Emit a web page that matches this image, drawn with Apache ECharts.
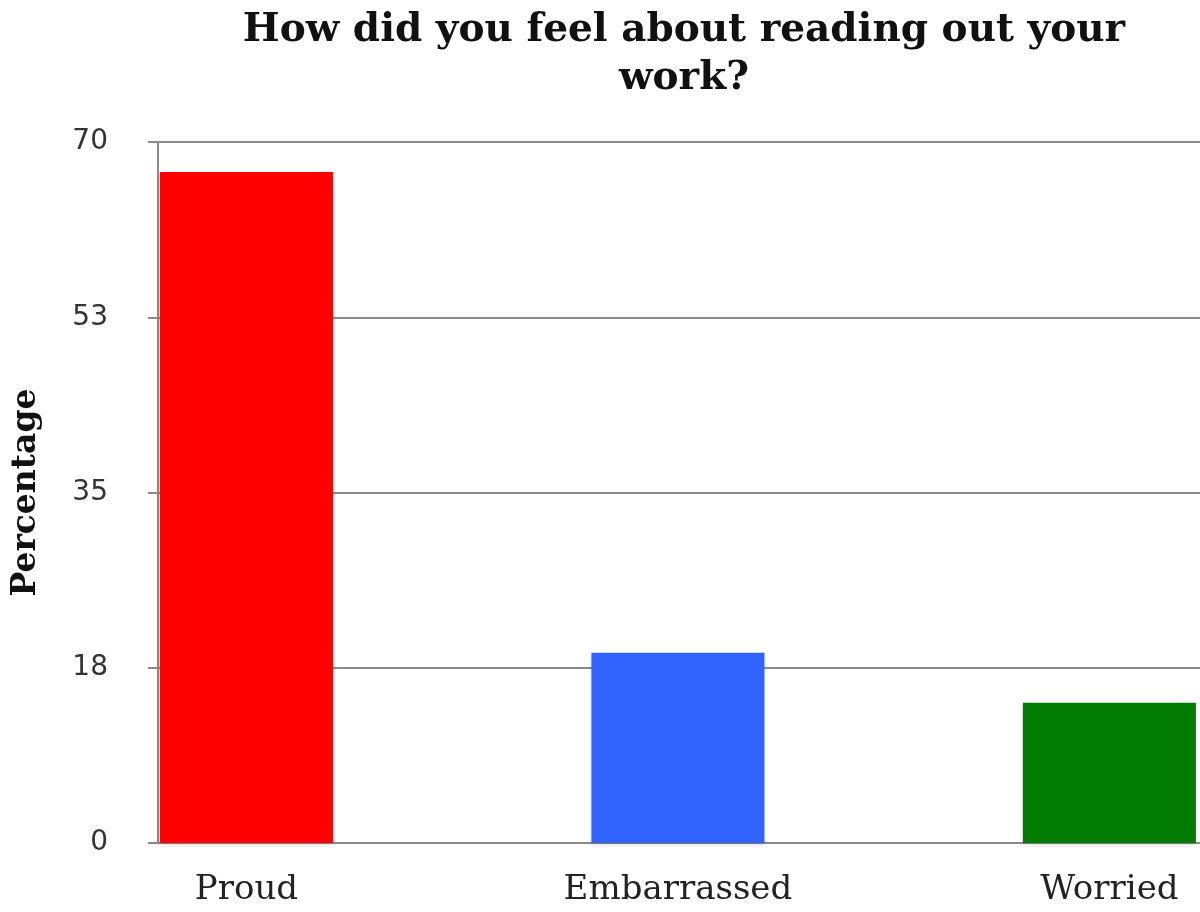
<!DOCTYPE html>
<html>
<head>
<meta charset="utf-8">
<script src="https://cdn.jsdelivr.net/npm/echarts@6/dist/echarts.min.js"></script>
<style>html,body{margin:0;padding:0;background:#fff}#c{width:1200px;height:912px}</style>
</head>
<body>
<div id="c"></div>
<script>
const categories = ['Proud', 'Embarrassed', 'Worried'];
const values = [67, 19, 14];
const barColors = ['#ff0000', '#3162fe', '#027b02'];

const chart = echarts.init(document.getElementById('c'));
chart.setOption({
  backgroundColor: '#ffffff',
  animation: false,
  title: {
    text: 'How did you feel about reading out your\nwork?',
    left: 679,
    top: 2,
    textAlign: 'center',
    textStyle: {
      fontFamily: 'DejaVu Serif',
      fontWeight: 'bold',
      fontSize: 39,
      lineHeight: 48,
      color: '#111'
    }
  },
  grid: { left: 158, right: 0, top: 142, bottom: 69, containLabel: false, outerBoundsMode: 'none' },
  xAxis: {
    type: 'value',
    min: -0.205,
    max: 2.21,
    splitLine: { show: false },
    axisLine: { show: true, onZero: false, lineStyle: { color: '#8a8a8a', width: 2 } },
    axisTick: { show: false },
    axisLabel: {
      customValues: [0, 1, 2],
      formatter: v => categories[Math.round(v)],
      fontFamily: 'DejaVu Serif',
      fontSize: 34,
      color: '#222',
      margin: 30
    }
  },
  yAxis: {
    type: 'value',
    min: 0,
    max: 70,
    interval: 17.5,
    name: 'Percentage',
    nameLocation: 'middle',
    nameRotate: 90,
    nameGap: 115,
    nameTextStyle: {
      fontFamily: 'DejaVu Serif',
      fontWeight: 'bold',
      fontSize: 33,
      color: '#111'
    },
    axisLine: { show: true, onZero: false, lineStyle: { color: '#8a8a8a', width: 2 } },
    axisTick: { show: true, length: 10, lineStyle: { color: '#8a8a8a', width: 2 } },
    splitLine: { show: true, lineStyle: { color: '#8a8a8a', width: 2 } },
    axisLabel: {
      formatter: v => String(Math.round(v)),
      fontFamily: 'DejaVu Sans',
      fontSize: 28,
      color: '#333',
      margin: 50
    }
  },
  series: [{
    type: 'bar',
    barWidth: 173,
    data: values.map((v, i) => ({
      value: [i, v],
      itemStyle: {
        color: barColors[i],
        shadowColor: 'rgba(0,0,0,0.15)',
        shadowBlur: 4,
        shadowOffsetY: 2
      }
    }))
  }]
});
</script>
</body>
</html>
